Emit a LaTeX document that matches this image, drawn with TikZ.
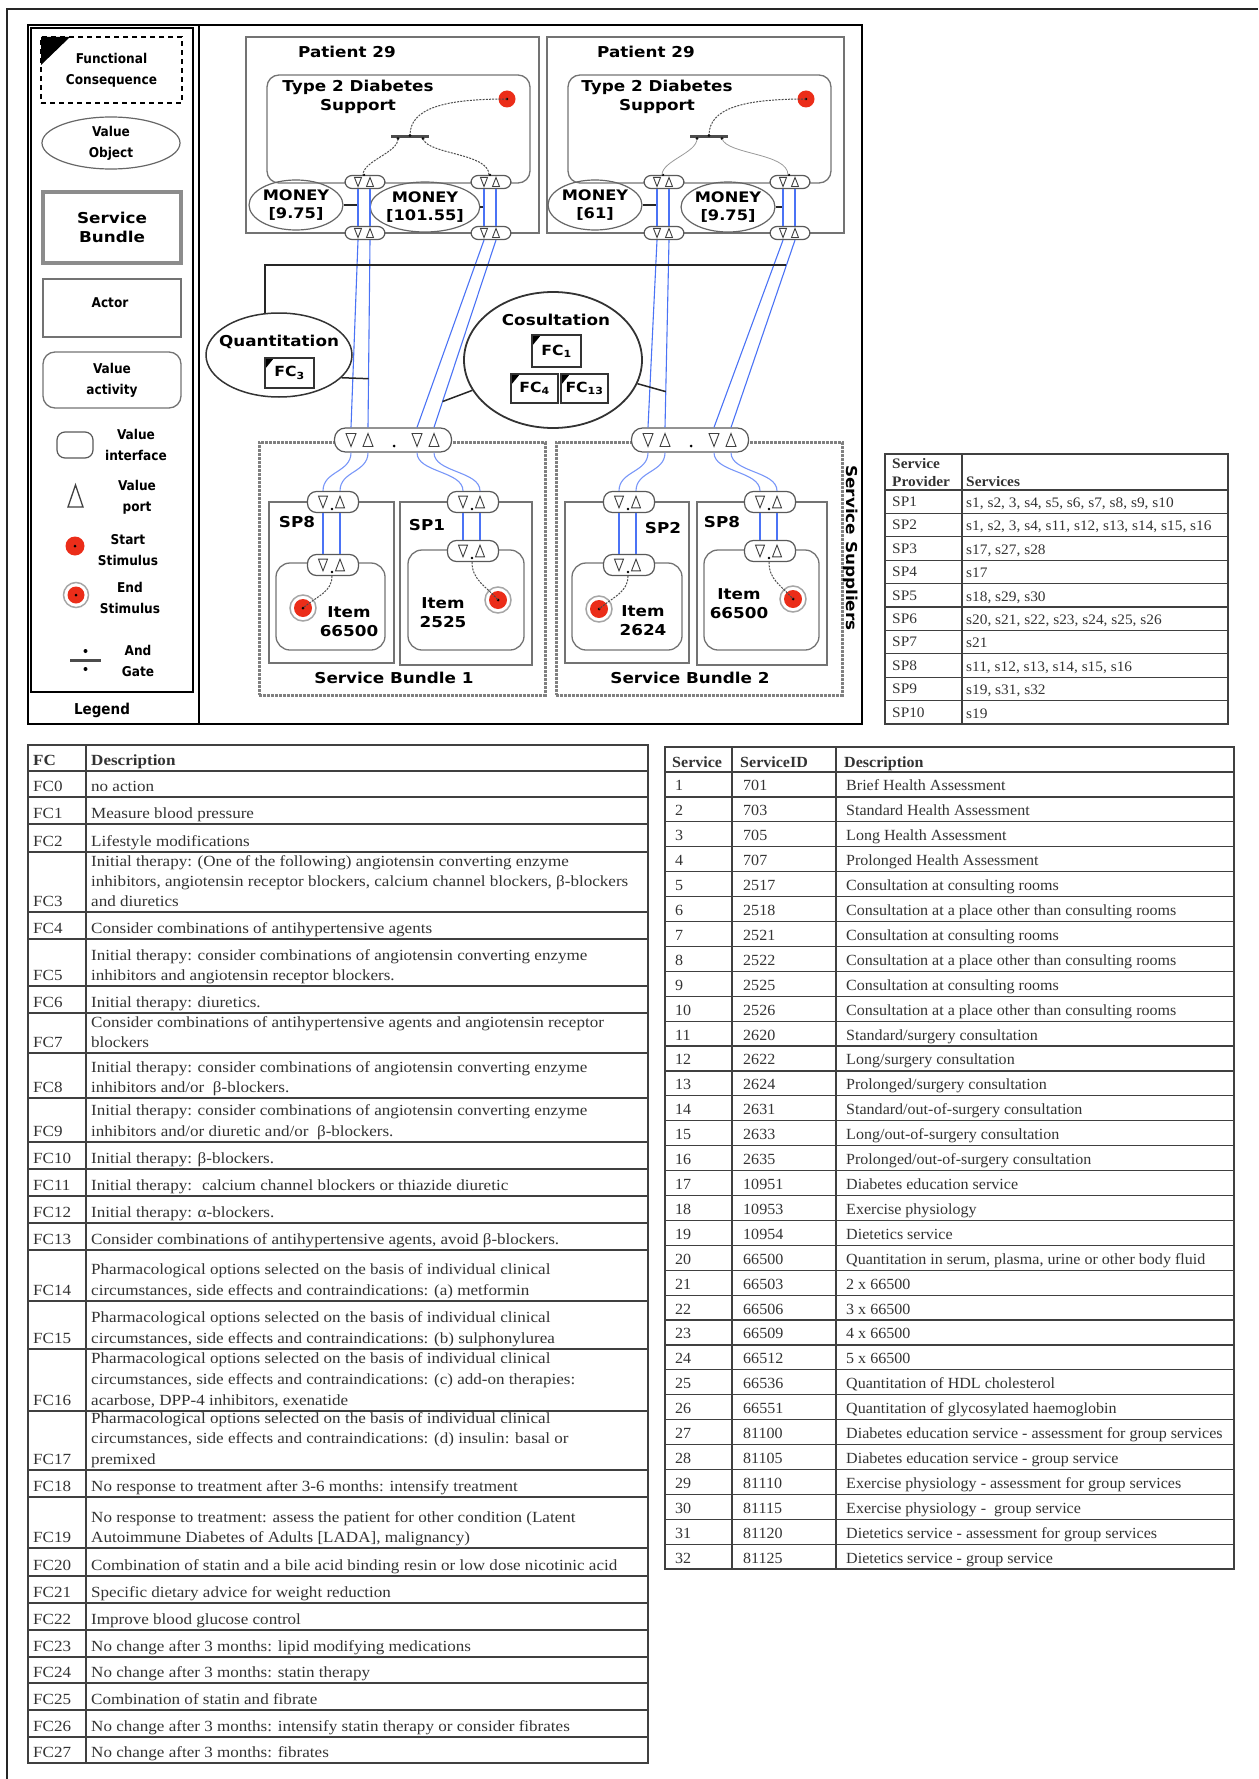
\documentclass[tikz,border=0pt]{standalone}
\usepackage{fontspec}
\setmainfont{Liberation Serif}
\newfontfamily\dvb{DejaVu Sans}[FakeStretch=1.12]
\newfontfamily\dvc{DejaVu Sans Condensed}
\newfontfamily\fctab{Liberation Serif}[FakeStretch=1.1]
\newfontfamily\svtab{Liberation Serif}[FakeStretch=1.035]
\newfontfamily\sptabf{Liberation Serif}[FakeStretch=1.06]
\usepackage{tikz}
\usetikzlibrary{positioning, shapes.geometric}
\definecolor{stimred}{RGB}{235,45,25}
\definecolor{flowblue}{RGB}{75,115,245}

% two value ports (in, out) inside an interface node
\newcommand{\portpair}[4]{%
  \begin{scope}[shift={(#1.center)}]
    \draw[port] (#2-#4,-#4*1.3) -- (#2+#4,-#4*1.3) -- (#2,#4*1.3) -- cycle;
    \draw[port] (#3-#4,#4*1.3) -- (#3+#4,#4*1.3) -- (#3,-#4*1.3) -- cycle;
  \end{scope}}

\begin{document}
\begin{tikzpicture}[x=1pt, y=-1pt,
    diag/.style={font=\dvb\bfseries\fontsize{15}{19}\selectfont, align=center, inner sep=0pt},
    leg/.style={font=\dvc\bfseries\fontsize{13.5}{21}\selectfont, align=center, inner sep=0pt},
    actor/.style={draw=black!55, line width=1.2pt, inner sep=0pt},
    vact/.style={draw=black!55, line width=1.3pt, rounded corners=12pt, inner sep=0pt},
    iface/.style={draw=black!65, fill=white, line width=1.2pt, rounded corners=7pt, inner sep=0pt},
    port/.style={draw=black!75, line width=0.9pt, fill=white},
    flow/.style={flowblue, line width=1.1pt},
    vobj/.style={ellipse, draw=black!60, line width=1.2pt, inner sep=0pt},
    stim/.style={circle, fill=stimred, minimum size=17pt, inner sep=0pt},
    trig/.style={black!70, line width=1pt, dash pattern=on 2pt off 1.2pt},
    link/.style={black!85, line width=1.5pt},
    bundle/.style={draw=black!50, line width=3pt, dash pattern=on 3pt off 1pt, inner sep=0pt},
    gate/.style={fill=black!70, minimum width=38pt, minimum height=3pt, inner sep=0pt},
    fcbox/.style={draw=black!80, line width=1.2pt, inner sep=0pt, font=\dvb\bfseries\fontsize{14}{16}\selectfont,
      path picture={\fill[black] (path picture bounding box.north west) -- ++(9pt,0pt) -- ++(-9pt,-11pt) -- cycle;}},
    tab/.style={font=\fctab\fontsize{15.5}{20}\selectfont, text=black!80, inner sep=0pt, anchor=base west},
    tabhead/.style={tab, font=\fctab\bfseries\fontsize{15.5}{20}\selectfont},
    svt/.style={tab, font=\svtab\fontsize{15.5}{20}\selectfont},
    svthead/.style={tab, font=\svtab\bfseries\fontsize{15.5}{20}\selectfont},
    sptab/.style={tab, font=\sptabf\fontsize{14.5}{18}\selectfont},
    sphead/.style={tab, font=\sptabf\bfseries\fontsize{14.5}{18}\selectfont},
    tabline/.style={black!75, line width=1.2pt}
]
\useasboundingbox (0,0) rectangle (1258,1779);
\draw[black!85, line width=1.5pt] (7,1779) -- (7,9) -- (1258,9);

% frame and legend
\draw[line width=1.5pt] (28,25) rectangle (862,724);
\draw[line width=1.5pt] (31,28) rectangle (193,692);
\draw[line width=1.2pt] (199,25) -- (199,724);

\node[leg, draw=black, line width=2pt, dash pattern=on 5pt off 4pt, minimum width=141pt, minimum height=66pt,
  path picture={\fill (path picture bounding box.north west) -- ++(29pt,0pt) -- ++(-29pt,-28pt) -- cycle;}]
  (lfc) at (111.5,70) {Functional\\Consequence};
\node[vobj, leg, minimum width=138pt, minimum height=52pt] (lvo) at (111,143) {Value\\Object};
\node[diag, draw=black!45, line width=3.5pt, minimum width=138pt, minimum height=71pt] (lsb) at (112,227.5) {Service\\Bundle};
\node[actor, minimum width=138pt, minimum height=58pt] (lac) at (112,308) {};
\node[leg] (lact) at (110,303) {Actor};
\node[vact, leg, minimum width=138pt, minimum height=56pt] (lva) at (112,380) {Value\\activity};
\node[iface, minimum width=36pt, minimum height=26pt, rounded corners=8pt] (lvi) at (75,445) {};
\node[leg] (lvit) at (136,445) {Value\\interface};
\draw[port, line width=1.3pt] (68,507) -- (83,507) -- (75.5,485) -- cycle;
\node[leg] (lvpt) at (137,497) {Value\\port};
\node[stim, minimum size=19pt] (lss) at (75,546) {};
\fill (lss) circle (1.5pt);
\node[leg] (lsst) at (128,550) {Start\\Stimulus};
\node[stim] (les) at (76,595) {};
\draw[black!35, line width=1.5pt] (les) circle (12.5pt);
\fill (les) circle (1.5pt);
\node[leg] (lest) at (130,598) {End\\Stimulus};
\node[gate, minimum width=31pt] (lag) at (85.5,660) {};
\fill (85.5,651) circle (2pt);
\fill (85.5,669) circle (2pt);
\node[leg] (lagt) at (138,661) {And\\Gate};
\node[leg, font=\dvc\bfseries\fontsize{15}{18}\selectfont] (lgd) at (102,710) {Legend};

% patient actors
\node[actor, minimum width=293pt, minimum height=196pt] (pat1) at (392.5,135) {};
\node[actor, minimum width=297pt, minimum height=196pt] (pat2) at (695.5,135) {};
\node[diag] (pat1l) at (347,52) {Patient 29};
\node[diag] (pat2l) at (646,52) {Patient 29};
\node[vact, minimum width=263pt, minimum height=108pt] (act1) at (398.5,129) {};
\node[vact, minimum width=263pt, minimum height=108pt] (act2) at (699.5,129) {};
\node[diag] (act1l) at (358,97) {Type 2 Diabetes\\Support};
\node[diag] (act2l) at (657,97) {Type 2 Diabetes\\Support};
\node[stim, minimum size=17pt] (st1) at (507,99) {};
\node[stim, minimum size=17pt] (st2) at (806,99) {};
\fill (st1) circle (1.3pt);
\fill (st2) circle (1.3pt);
\node[gate] (g1) at (410,137) {};
\node[gate] (g2) at (709,137) {};
\foreach \g in {g1,g2} {
  \fill (\g.north) circle (1.5pt);
  \fill ([xshift=-12pt]\g.south) circle (1.5pt);
  \fill ([xshift=13pt]\g.south) circle (1.5pt);
}

% patient interfaces
\foreach \n/\x in {pl1/365, pl2/491, pr1/664, pr2/790} {
  \node[iface, minimum width=40pt, minimum height=13pt] (\n t) at (\x,182) {};
  \node[iface, minimum width=40pt, minimum height=13pt] (\n b) at (\x,233) {};
  \portpair{\n t}{-7}{5}{3.5}
  \portpair{\n b}{-7}{5}{3.5}
  \fill ([xshift=-1pt]\n t.north) circle (1.3pt);
}

% stimulus paths
\draw[trig] (st1.center) .. controls (445,99) and (410,108) .. (g1.north);
\draw[trig] ([xshift=-12pt]g1.south) .. controls +(0,14) and +(0,-14) .. ([xshift=-2pt]pl1t.north);
\draw[trig] ([xshift=13pt]g1.south) .. controls +(5,16) and +(0,-22) .. ([xshift=-2pt]pl2t.north);
\draw[trig] (st2.center) .. controls (744,99) and (709,108) .. (g2.north);
\draw[black!40, line width=0.8pt] ([xshift=-12pt]g2.south) .. controls +(0,14) and +(0,-14) .. ([xshift=-2pt]pr1t.north);
\draw[black!40, line width=0.8pt] ([xshift=13pt]g2.south) .. controls +(5,16) and +(0,-22) .. ([xshift=-2pt]pr2t.north);

% money objects
\node[vobj, diag, font=\dvb\bfseries\fontsize{14.5}{17.5}\selectfont, minimum width=82pt, minimum height=50pt] (m1) at (296,205) {MONEY\\{[}9.75{]}};
\node[vobj, diag, font=\dvb\bfseries\fontsize{14.5}{17.5}\selectfont, minimum width=84pt, minimum height=50pt] (m2) at (425,207) {MONEY\\{[}101.55{]}};
\node[vobj, diag, font=\dvb\bfseries\fontsize{14.5}{17.5}\selectfont, minimum width=86pt, minimum height=50pt] (m3) at (595,205) {MONEY\\{[}61{]}};
\node[vobj, diag, font=\dvb\bfseries\fontsize{14.5}{17.5}\selectfont, minimum width=76pt, minimum height=50pt] (m4) at (728,207) {MONEY\\{[}9.75{]}};
\coordinate (c1) at ([xshift=-7pt]pl1b.center);
\coordinate (c2) at ([xshift=-7pt]pl2b.center);
\coordinate (c3) at ([xshift=-7pt]pr1b.center);
\coordinate (c4) at ([xshift=-7pt]pr2b.center);
\draw[link, line width=1.2pt] (m1.east) -- (m1.east -| c1);
\draw[link, line width=1.2pt] (m2.east) -- (m2.east -| c2);
\draw[link, line width=1.2pt] (m3.east) -- (m3.east -| c3);
\draw[link, line width=1.2pt] (m4.east) -- (m4.east -| c4);

% service bundles
\node[bundle, minimum width=286pt, minimum height=253pt] (sb1) at (402,568.5) {};
\node[bundle, minimum width=286pt, minimum height=253pt] (sb2) at (699,568.5) {};
\node[diag] (sb1l) at (394,678) {Service Bundle 1};
\node[diag] (sb2l) at (690,678) {Service Bundle 2};
\node[diag, rotate=-90] (supl) at (851,548) {Service Suppliers};
\node[iface, minimum width=117pt, minimum height=24pt, rounded corners=11pt] (sb1i) at (393,440) {};
\node[iface, minimum width=117pt, minimum height=24pt, rounded corners=11pt] (sb2i) at (690,440) {};
\foreach \b in {sb1i,sb2i} {
  \portpair{\b}{-42}{-25}{5}
  \portpair{\b}{24}{41}{5}
  \fill ([xshift=1pt,yshift=-6pt]\b.center) circle (1.5pt);
}

% providers and items
\node[actor, minimum width=125pt, minimum height=161pt] (sp8a) at (331.5,582.5) {};
\node[actor, minimum width=132pt, minimum height=163pt] (sp1) at (466,583.5) {};
\node[actor, minimum width=124pt, minimum height=161pt] (sp2) at (627,582.5) {};
\node[actor, minimum width=130pt, minimum height=163pt] (sp8b) at (762,583.5) {};
\node[diag] (sp8al) at (297,522) {SP8};
\node[diag] (sp1l) at (427,525) {SP1};
\node[diag] (sp2l) at (663,528) {SP2};
\node[diag] (sp8bl) at (722,522) {SP8};
\node[vact, minimum width=109pt, minimum height=87pt, rounded corners=14pt] (it1) at (330.5,606.5) {};
\node[vact, minimum width=116pt, minimum height=100pt, rounded corners=14pt] (it2) at (466,600) {};
\node[vact, minimum width=110pt, minimum height=87pt, rounded corners=14pt] (it3) at (627,606.5) {};
\node[vact, minimum width=115pt, minimum height=100pt, rounded corners=14pt] (it4) at (761.5,600) {};
\node[diag] (it1l) at (349,622) {Item\\66500};
\node[diag] (it2l) at (443,613) {Item\\2525};
\node[diag] (it3l) at (643,621) {Item\\2624};
\node[diag] (it4l) at (739,604) {Item\\66500};
\foreach \n/\x/\yi in {sp8a/333/565, sp1/473/551, sp2/629/565, sp8b/770/551} {
  \node[iface, minimum width=51pt, minimum height=21pt, rounded corners=9pt] (\n i) at (\x,502) {};
  \node[iface, minimum width=51pt, minimum height=21pt, rounded corners=9pt] (\n v) at (\x,\yi) {};
  \portpair{\n i}{-10}{7}{4.5}
  \portpair{\n v}{-10}{7}{4.5}
  \fill ([xshift=-1pt,yshift=-7pt]\n i.center) circle (1.3pt);
  \fill ([xshift=-1pt,yshift=-7pt]\n v.center) circle (1.3pt);
  \foreach \dx in {-10pt,7pt}
    \draw[flow] ([xshift=\dx]\n i.south) -- ([xshift=\dx]\n v.north);
}
\foreach \e/\x/\y in {e1/303/608, e2/498/600, e3/599/609, e4/793/599} {
  \node[stim, minimum size=18pt] (\e) at (\x,\y) {};
  \draw[black!35, line width=1.5pt] (\e) circle (13pt);
  \fill (\e) circle (1.5pt);
}
\draw[trig] ([xshift=-1pt]sp8av.south) .. controls +(0,16) and +(14,-12) .. (e1.center);
\draw[trig] ([xshift=-1pt]sp1v.south) .. controls +(0,18) and +(-12,-14) .. (e2.center);
\draw[trig] ([xshift=-1pt]sp2v.south) .. controls +(0,16) and +(14,-12) .. (e3.center);
\draw[trig] ([xshift=-1pt]sp8bv.south) .. controls +(0,18) and +(-12,-14) .. (e4.center);

% value transfers
\foreach \p in {pl1,pl2,pr1,pr2}
  \foreach \dx in {-7pt,5pt}
    \draw[flow] ([xshift=\dx]\p t.south) -- ([xshift=\dx]\p b.north);
\draw[flow] ([xshift=-7pt]pl1b.south) -- ([xshift=-42pt]sb1i.north);
\draw[flow] ([xshift=5pt]pl1b.south) -- coordinate[pos=0.74] (q1) ([xshift=-25pt]sb1i.north);
\draw[flow] ([xshift=-7pt]pl2b.south) -- ([xshift=24pt]sb1i.north);
\draw[flow] ([xshift=5pt]pl2b.south) -- coordinate[pos=0.862] (q2) ([xshift=41pt]sb1i.north);
\draw[flow] ([xshift=-7pt]pr1b.south) -- ([xshift=-42pt]sb2i.north);
\draw[flow] ([xshift=5pt]pr1b.south) -- coordinate[pos=0.809] (q4) ([xshift=-25pt]sb2i.north);
\draw[flow] ([xshift=-7pt]pr2b.south) -- ([xshift=24pt]sb2i.north);
\draw[flow] ([xshift=5pt]pr2b.south) -- coordinate[pos=0.135] (q3) ([xshift=41pt]sb2i.north);
\foreach \b/\a/\o in {sb1i/sp8ai/-42, sb1i/sp1i/24, sb2i/sp2i/-42, sb2i/sp8bi/24} {
  \draw[flow, flowblue!75] ([xshift=\o pt]\b.south) .. controls +(0,20) and +(0,-20) .. ([xshift=-10pt]\a.north);
  \draw[flow, flowblue!75] ([xshift=\o pt+17pt]\b.south) .. controls +(0,20) and +(0,-20) .. ([xshift=7pt]\a.north);
}

% value objects of the bundles
\node[vobj, draw=black!80, line width=1.5pt, minimum width=146pt, minimum height=84pt] (quant) at (279,355) {};
\node[diag] (quantl) at (279,342) {Quantitation};
\node[fcbox, minimum width=49pt, minimum height=30pt] (fcq) at (289.5,373) {FC\textsubscript{3}};
\node[vobj, draw=black!80, line width=1.8pt, minimum width=178pt, minimum height=136pt] (cons) at (553,360) {};
\node[diag] (consl) at (556,320) {Cosultation};
\node[fcbox, minimum width=49pt, minimum height=32pt] (fc1) at (556.5,351) {FC\textsubscript{1}};
\node[fcbox, minimum width=47pt, minimum height=29pt] (fc4) at (534.5,388.5) {FC\textsubscript{4}};
\node[fcbox, minimum width=47pt, minimum height=29pt] (fc13) at (584.5,388.5) {FC\textsubscript{13}};
\draw[link, line width=2pt] (quant.108) -- (quant.108 |- q3) -- (q3);
\draw[link] (quant.-20) -- (q1);
\draw[link] (q2) -- (cons);
\draw[link] (q4) -- (cons);

% service provider table
\draw[tabline] (885,454) rectangle (1228,724);
\draw[tabline] (962,454) -- (962,724);
\foreach \k in {0,...,9} \draw[tabline] (885,{490+23.4*\k}) -- (1228,{490+23.4*\k});
\node[sphead] (sph1) at (892,468) {Service};
\node[sphead] (sph2) at (892,486) {Provider};
\node[sphead] (sph3) at (966,486) {Services};
\foreach \sv [count=\k] in {{s1, s2, 3, s4, s5, s6, s7, s8, s9, s10}, {s1, s2, 3, s4, s11, s12, s13, s14, s15, s16},
    {s17, s27, s28}, {s17}, {s18, s29, s30}, {s20, s21, s22, s23, s24, s25, s26}, {s21},
    {s11, s12, s13, s14, s15, s16}, {s19, s31, s32}, {s19}} {
  \node[sptab] (spn\k) at (892,{490+23.4*\k-7}) {SP\k};
  \node[sptab] (sps\k) at (966,{490+23.4*\k-6}) {\sv};
}

% functional consequence table
\draw[tabline] (28,745) rectangle (648,1763);
\draw[tabline] (86,745) -- (86,1763);
\foreach \y in {771,797,824,852,912,939,986,1013,1053,1098,1142,1169,1196,1223,1250,1301,1349,1411,1470,1497,1548,1576,1603,1630,1657,1683,1710,1737}
  \draw[tabline] (28,\y) -- (648,\y);
\node[tabhead] (fch1) at (33,765) {FC};
\node[tabhead] (fch2) at (91,765) {Description};
\foreach \yb [count=\k from 0] in {791,818,846,906,933,980,1007,1047,1092,1136,1163,1190,1217,1244,1295,1343,1405,1464,1491,1542,1570,1597,1624,1651,1677,1704,1731,1757}
  \node[tab] (fcl\k) at (33,\yb) {FC\k};
\foreach \yb/\txt [count=\k] in {
    791/{no action},
    818/{Measure blood pressure},
    846/{Lifestyle modifications},
    866/{Initial therapy: (One of the following) angiotensin converting enzyme},
    886/{inhibitors, angiotensin receptor blockers, calcium channel blockers, β-blockers},
    906/{and diuretics},
    933/{Consider combinations of antihypertensive agents},
    960/{Initial therapy: consider combinations of angiotensin converting enzyme},
    980/{inhibitors and angiotensin receptor blockers.},
    1007/{Initial therapy: diuretics.},
    1027/{Consider combinations of antihypertensive agents and angiotensin receptor},
    1047/{blockers},
    1072/{Initial therapy: consider combinations of angiotensin converting enzyme},
    1092/{inhibitors and/or~ β-blockers.},
    1115/{Initial therapy: consider combinations of angiotensin converting enzyme},
    1136/{inhibitors and/or diuretic and/or~ β-blockers.},
    1163/{Initial therapy: β-blockers.},
    1190/{Initial therapy:~ calcium channel blockers or thiazide diuretic},
    1217/{Initial therapy: α-blockers.},
    1244/{Consider combinations of antihypertensive agents, avoid β-blockers.},
    1274/{Pharmacological options selected on the basis of individual clinical},
    1295/{circumstances, side effects and contraindications: (a) metformin},
    1322/{Pharmacological options selected on the basis of individual clinical},
    1343/{circumstances, side effects and contraindications: (b) sulphonylurea},
    1363/{Pharmacological options selected on the basis of individual clinical},
    1384/{circumstances, side effects and contraindications: (c) add-on therapies:},
    1405/{acarbose, DPP-4 inhibitors, exenatide},
    1423/{Pharmacological options selected on the basis of individual clinical},
    1443/{circumstances, side effects and contraindications: (d) insulin: basal or},
    1464/{premixed},
    1491/{No response to treatment after 3-6 months: intensify treatment},
    1522/{No response to treatment: assess the patient for other condition (Latent},
    1542/{Autoimmune Diabetes of Adults [LADA], malignancy)},
    1570/{Combination of statin and a bile acid binding resin or low dose nicotinic acid},
    1597/{Specific dietary advice for weight reduction},
    1624/{Improve blood glucose control},
    1651/{No change after 3 months: lipid modifying medications},
    1677/{No change after 3 months: statin therapy},
    1704/{Combination of statin and fibrate},
    1731/{No change after 3 months: intensify statin therapy or consider fibrates},
    1757/{No change after 3 months: fibrates}}
  \node[tab] (fct\k) at (91,\yb) {\txt};

% service table
\draw[tabline] (665,747) rectangle (1234,1569);
\draw[tabline] (732,747) -- (732,1569);
\draw[tabline] (836,747) -- (836,1569);
\foreach \k in {0,...,31} \draw[tabline] (665,{772+24.91*\k}) -- (1234,{772+24.91*\k});
\node[svthead] (svh1) at (672,767) {Service};
\node[svthead] (svh2) at (740,767) {ServiceID};
\node[svthead] (svh3) at (844,767) {Description};
\foreach \sid/\sd [count=\k] in {
    701/{Brief Health Assessment}, 703/{Standard Health Assessment}, 705/{Long Health Assessment},
    707/{Prolonged Health Assessment}, 2517/{Consultation at consulting rooms},
    2518/{Consultation at a place other than consulting rooms}, 2521/{Consultation at consulting rooms},
    2522/{Consultation at a place other than consulting rooms}, 2525/{Consultation at consulting rooms},
    2526/{Consultation at a place other than consulting rooms}, 2620/{Standard/surgery consultation},
    2622/{Long/surgery consultation}, 2624/{Prolonged/surgery consultation},
    2631/{Standard/out-of-surgery consultation}, 2633/{Long/out-of-surgery consultation},
    2635/{Prolonged/out-of-surgery consultation}, 10951/{Diabetes education service},
    10953/{Exercise physiology}, 10954/{Dietetics service},
    66500/{Quantitation in serum, plasma, urine or other body fluid}, 66503/{2 x 66500},
    66506/{3 x 66500}, 66509/{4 x 66500}, 66512/{5 x 66500}, 66536/{Quantitation of HDL cholesterol},
    66551/{Quantitation of glycosylated haemoglobin},
    81100/{Diabetes education service - assessment for group services},
    81105/{Diabetes education service - group service},
    81110/{Exercise physiology - assessment for group services},
    81115/{Exercise physiology -~ group service},
    81120/{Dietetics service - assessment for group services},
    81125/{Dietetics service - group service}} {
  \node[svt] (svn\k) at (675,{772+24.91*\k-6}) {\k};
  \node[svt] (svi\k) at (743,{772+24.91*\k-6}) {\sid};
  \node[svt] (svd\k) at (846,{772+24.91*\k-6}) {\sd};
}
\end{tikzpicture}
\end{document}
